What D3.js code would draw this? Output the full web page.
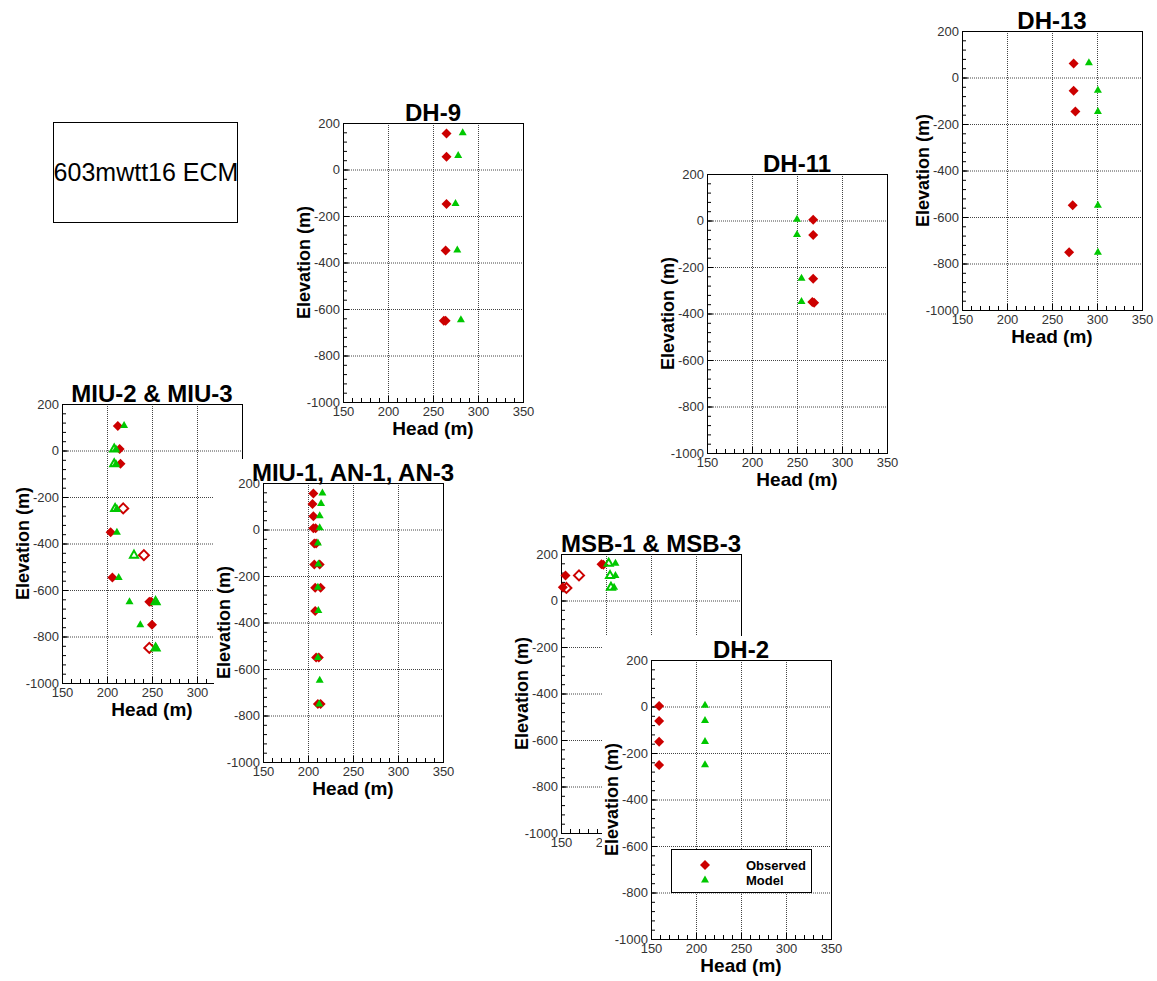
<!DOCTYPE html>
<html>
<head>
<meta charset="utf-8">
<script src="https://cdn.jsdelivr.net/npm/d3@7"></script>
<style>
  body { margin: 0; background: #fff; }
  text { font-family: "Liberation Sans", Arial, sans-serif; }
</style>
</head>
<body>
<div id="chart"></div>
<script>
// head (m), elevation (m)
const dh9Observed = [[265,155],[265,55],[265,-148],[264,-348],[262,-650],[264,-650]]
const dh9Model = [[283,158],[278,60],[275,-146],[277,-346],[281,-646]]

const dh11Observed = [[268,3],[268,-62],[268,-250],[267,-350],[269,-354]]
const dh11Model = [[250,5],[250,-60],[255,-248],[255,-348]]

const dh13Observed = [[274,60],[274,-57],[276,-146],[273,-549],[269,-752]]
const dh13Model = [[291,63],[301,-55],[301,-146],[301,-549],[301,-752]]

const miu2Observed = [[212,105],[214,6],[215,-57],[204,-352],[206,-546],[247,-650],[249,-650],[250,-749]]
const miu3Observed = [[218,-249],[241,-450],[247,-849]]
const miu2Model = [[219,107],[210,6],[210,-57],[211,-249],[211,-352],[213,-546],[225,-650],[255,-650],[237,-749],[255,-849]]
const miu3Model = [[208,6],[208,-57],[209,-249],[230,-450],[254,-650],[254,-849]]

const miu1Observed = [[206,155],[205,110],[206,57],[206,5],[208.5,5],[207,-60],[209,-60],[207,-150],[213,-150],
  [208,-250],[214,-250],[208,-350],[209,-550],[212,-550],[211,-750],[214,-750]]
const miu1Model = [[216,157],[214.5,112],[213,59],[213,7],[211,-58],[211.5,-148],[211,-248],[211.5,-348],[211,-550],[213,-648],[212.5,-750]]

const msb1Observed = [[155,108],[152,57],[195,156],[197,154]]
const msb3Observed = [[170,108],[156,54]]
const msb1Model = [[210.5,160],[210.5,107],[209,57]]
const msb3Model = [[203,160],[204.5,107],[205.5,57]]

const dh2Observed = [[159,2],[159,-62],[159,-152],[159,-252]]
const dh2Model = [[210,5],[210,-60],[210,-150],[210,-250]]

const xTicks = [150,200,250,300,350]
const yTicks = [-1000,-800,-600,-400,-200,0,200]
const legendLabels = ['Observed','Model']

const red = '#cc0000', green = '#00c800'
const W = 180, H = 279

// drawn in this order so later panels cover earlier ones
const panels = [
  {title:'DH-9', x0:343, y0:123, obs:dh9Observed, model:dh9Model},
  {title:'DH-11', x0:707, y0:174, obs:dh11Observed, model:dh11Model},
  {title:'DH-13', x0:962, y0:31, obs:dh13Observed, model:dh13Model},
  {title:'MIU-2 & MIU-3', x0:62, y0:404, obs:miu2Observed, obsHollow:miu3Observed, model:miu2Model, modelHollow:miu3Model},
  {title:'MIU-1, AN-1, AN-3', x0:263, y0:483, obs:miu1Observed, model:miu1Model},
  {title:'MSB-1 & MSB-3', x0:561, y0:554, obs:msb1Observed, obsHollow:msb3Observed, model:msb1Model, modelHollow:msb3Model},
  {title:'DH-2', x0:651, y0:660, obs:dh2Observed, model:dh2Model, legend:true}
]

const svg = d3.select('#chart').append('svg').attr('width',1157).attr('height',981)

const diamond = 'M0,-5L5,0L0,5L-5,0Z'
const triangle = 'M0,-4.5L4,2.5L-4,2.5Z'

// title box
const tb = svg.append('g')
tb.append('rect').attr('x',53.5).attr('y',122.5).attr('width',184).attr('height',100)
  .attr('fill','none').attr('stroke','#000')
tb.append('text').attr('x',146).attr('y',172).attr('dy','0.35em').attr('text-anchor','middle')
  .style('font-size','25px').text('603mwtt16 ECM')

function drawPanel(p) {
  const g = svg.append('g').attr('transform',`translate(${p.x0},${p.y0})`)
  g.append('rect').attr('x',-49).attr('y',-24).attr('width',W+69).attr('height',H+74).attr('fill','#fff')

  const xs = d3.scaleLinear().domain([150,350]).range([0,W])
  const ys = d3.scaleLinear().domain([-1000,200]).range([H,0])

  // dotted grid
  g.selectAll('line.gx').data(xTicks.slice(1,-1)).join('line')
    .attr('x1',d=>xs(d)+0.5).attr('x2',d=>xs(d)+0.5).attr('y1',0).attr('y2',H)
    .attr('stroke','#444').attr('stroke-dasharray','1,1')
  g.selectAll('line.gy').data(yTicks.slice(1,-1)).join('line')
    .attr('y1',d=>ys(d)+0.5).attr('y2',d=>ys(d)+0.5).attr('x1',0).attr('x2',W)
    .attr('stroke','#444').attr('stroke-dasharray','1,1')

  // minor ticks
  const mx = g.append('g').attr('transform',`translate(0,${H})`)
    .call(d3.axisBottom(xs).tickValues(d3.range(150,351,10)).tickSize(-4).tickFormat(''))
  const my = g.append('g')
    .call(d3.axisLeft(ys).tickValues(d3.range(-1000,201,40)).tickSize(-4).tickFormat(''))
  // major ticks with labels
  const ax = g.append('g').attr('transform',`translate(0,${H})`)
    .call(d3.axisBottom(xs).tickValues(xTicks).tickSize(-6).tickPadding(5).tickFormat(d => String(d)))
  const ay = g.append('g')
    .call(d3.axisLeft(ys).tickValues(yTicks).tickSize(-6).tickPadding(3).tickFormat(d => String(d)))
  ;[mx,my,ax,ay].forEach(a => a.select('.domain').remove())
  ;[ax,ay].forEach(a => a.selectAll('text').style('font-size','13px').attr('fill','#333')
    .style('font-family','"Liberation Sans", Arial, sans-serif'))

  g.append('rect').attr('x',0.5).attr('y',0.5).attr('width',W).attr('height',H)
    .attr('fill','none').attr('stroke','#000')

  g.append('text').attr('x',W/2).attr('y',-2).attr('text-anchor','middle')
    .style('font-size','24px').style('font-weight','bold').text(p.title)
  g.append('text').attr('x',W/2).attr('y',H+33).attr('text-anchor','middle')
    .style('font-size','19px').style('font-weight','bold').text('Head (m)')
  g.append('text').attr('transform','rotate(-90)').attr('x',-H/2).attr('y',-33)
    .attr('text-anchor','middle').style('font-size','18px').style('font-weight','bold').text('Elevation (m)')

  const pos = d => `translate(${xs(d[0])},${ys(d[1])})`
  g.append('g').selectAll('path').data(p.obs).join('path')
    .attr('transform',pos).attr('d',diamond).attr('fill',red)
  g.append('g').selectAll('path').data(p.obsHollow || []).join('path')
    .attr('transform',pos).attr('d',diamond).attr('fill','none').attr('stroke',red).attr('stroke-width',2)
  g.append('g').selectAll('path').data(p.modelHollow || []).join('path')
    .attr('transform',pos).attr('d',triangle).attr('fill','none').attr('stroke',green).attr('stroke-width',2)
  g.append('g').selectAll('path').data(p.model).join('path')
    .attr('transform',pos).attr('d',triangle).attr('fill',green)

  if (p.legend) {
    const lg = g.append('g').attr('transform','translate(20,189)')
    lg.append('rect').attr('x',0.5).attr('y',0.5).attr('width',140).attr('height',43)
      .attr('fill','#fff').attr('stroke','#000')
    const rows = lg.selectAll('g.row').data(legendLabels).join('g')
      .attr('transform',(d,i)=>`translate(34,${16+i*15})`)
    rows.append('path').attr('d',(d,i)=> i==0 ? diamond : triangle).attr('fill',(d,i)=> i==0 ? red : green)
    rows.append('text').attr('x',41).attr('dy','0.35em').style('font-size','13px')
      .style('font-weight','bold').text(d=>d)
  }
}

panels.forEach(drawPanel)
</script>
</body>
</html>
